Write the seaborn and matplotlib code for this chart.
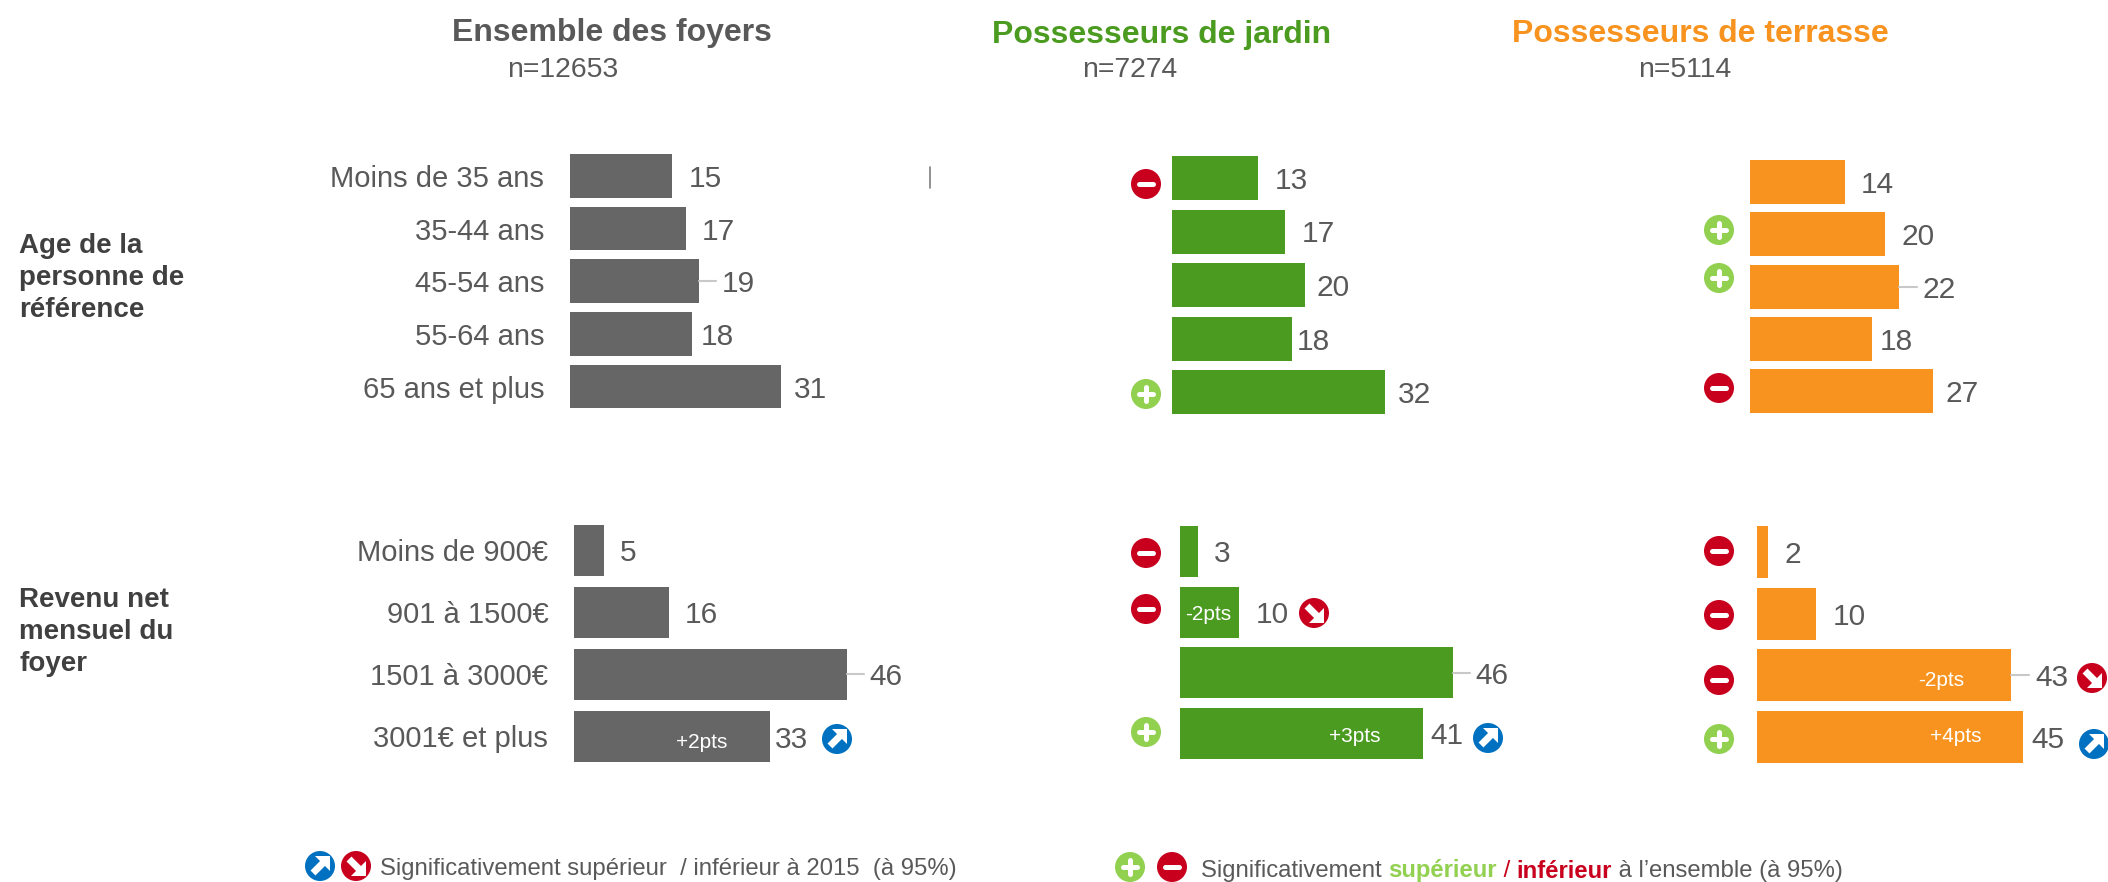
import pandas as pd
import matplotlib
matplotlib.use("Agg")
import matplotlib.pyplot as plt
from matplotlib.patches import Circle, Polygon
import seaborn as sns

# donnees
age_labels = ["Moins de 35 ans", "35-44 ans", "45-54 ans", "55-64 ans", "65 ans et plus"]
revenu_labels = ["Moins de 900€", "901 à 1500€", "1501 à 3000€", "3001€ et plus"]

age_ensemble = [15, 17, 19, 18, 31]
age_jardin = [13, 17, 20, 18, 32]
age_terrasse = [14, 20, 22, 18, 27]
revenu_ensemble = [5, 16, 46, 33]
revenu_jardin = [3, 10, 46, 41]
revenu_terrasse = [2, 10, 43, 45]

GRIS = "#666666"
VERT = "#4A9B1F"
ORANGE = "#F7931E"
VERT_CLAIR = "#92D050"
ROUGE = "#C8001E"
BLEU = "#0070C0"
TEXTE = "#595959"
W, H = 2108, 882

sns.set_theme(style="white")
plt.rcParams["font.family"] = ["Liberation Sans", "DejaVu Sans"]

fig = plt.figure(figsize=(W / 100, H / 100), dpi=100)

# calque en pixels pour les textes et pictos
over = fig.add_axes([0, 0, 1, 1], zorder=5)
over.set_xlim(0, W)
over.set_ylim(H, 0)
over.axis("off")


def panneau(labels, valeurs, couleur, x0, echelle, c1, c2, haut, ecarts, noms=False):
    n = len(valeurs)
    pas = (c2 - c1) / (n - 1)
    larg = 100 * echelle
    top = c1 - pas / 2
    ax = fig.add_axes([x0 / W, 1 - (top + pas * n) / H, larg / W, pas * n / H])
    ax.patch.set_alpha(0)
    df = pd.DataFrame({"cat": labels, "val": valeurs})
    sns.barplot(data=df, y="cat", x="val", color=couleur, saturation=1,
                width=haut / pas, linewidth=0, ax=ax)
    ax.set_xlim(0, 100)
    ax.set_xticks([])
    ax.set_xlabel("")
    ax.set_ylabel("")
    sns.despine(ax=ax, left=True, bottom=True)
    ax.tick_params(axis="y", length=0, pad=18.5, labelleft=noms, labelsize=21, labelcolor=TEXTE)
    for i, v in enumerate(valeurs):
        fin = x0 + v * echelle
        cy = c1 + i * pas
        over.text(fin + ecarts[i], cy + 3, str(v), fontsize=21.5, color=TEXTE, va="center", ha="left")
        if ecarts[i] >= 23:
            over.plot([fin, fin + ecarts[i] - 6], [cy, cy], color="#C8C8C8", lw=1.5)
    return ax


panneau(age_labels, age_ensemble, GRIS, 570, 6.8, 176, 386.5, 43.7, [17, 16, 23, 8, 13], True)
panneau(age_labels, age_jardin, VERT, 1172, 6.65, 178, 392, 44, [16, 17, 12, 5, 13])
panneau(age_labels, age_terrasse, ORANGE, 1750, 6.77, 182, 391, 44, [16, 16, 24, 8, 13])
panneau(revenu_labels, revenu_ensemble, GRIS, 574, 5.93, 550, 736.5, 51, [16, 16, 23, 5], True)
panneau(revenu_labels, revenu_jardin, VERT, 1180, 5.93, 551.5, 733, 51, [16, 16, 23, 7])
panneau(revenu_labels, revenu_terrasse, ORANGE, 1756.5, 5.92, 552, 737, 52, [16, 17, 24, 8])


def picto(x, y, genre):
    couleur = {"plus": VERT_CLAIR, "moins": ROUGE, "hausse": BLEU, "baisse": ROUGE}[genre]
    over.add_patch(Circle((x, y), 15, color=couleur, lw=0, clip_on=False, zorder=6))
    if genre in ("plus", "moins"):
        over.plot([x - 7, x + 7], [y, y], color="white", lw=3.6, solid_capstyle="round", zorder=7)
        if genre == "plus":
            over.plot([x, x], [y - 7, y + 7], color="white", lw=3.6, solid_capstyle="round", zorder=7)
    else:
        sens = -1 if genre == "hausse" else 1
        over.plot([x - 7, x + 3], [y - 7 * sens, y + 3 * sens], color="white", lw=5,
                  solid_capstyle="butt", zorder=7)
        over.add_patch(Polygon([(x + 10, y + 10 * sens), (x + 10, y - 5 * sens), (x - 5, y + 10 * sens)],
                               color="white", lw=0, zorder=7))


pictos = [
    (1146, 184, "moins"), (1146, 394, "plus"),
    (1719, 230, "plus"), (1719, 278, "plus"), (1719, 388, "moins"),
    (1146, 553, "moins"), (1146, 609, "moins"), (1146, 732, "plus"),
    (1314, 613, "baisse"), (1488, 738, "hausse"),
    (1719, 551, "moins"), (1719, 615, "moins"), (1719, 680, "moins"), (1719, 739, "plus"),
    (2092, 678, "baisse"), (2094, 744, "hausse"),
    (837, 739, "hausse"),
    (320, 866, "hausse"), (356, 866, "baisse"),
    (1130, 867, "plus"), (1172, 867, "moins"),
]
for px, py, genre in pictos:
    picto(px, py, genre)

# titres
over.text(612, 33, "Ensemble des foyers", fontsize=23, fontweight="bold", color=TEXTE, ha="center", va="center")
over.text(1162, 35, "Possesseurs de jardin", fontsize=23, fontweight="bold", color=VERT, ha="center", va="center")
over.text(1700, 34, "Possesseurs de terrasse", fontsize=23, fontweight="bold", color=ORANGE, ha="center", va="center")
over.text(563, 70, "n=12653", fontsize=20.4, color=TEXTE, ha="center", va="center")
over.text(1130, 70, "n=7274", fontsize=20.4, color=TEXTE, ha="center", va="center")
over.text(1685, 70, "n=5114", fontsize=20.4, color=TEXTE, ha="center", va="center")

over.text(19, 278, "Age de la\npersonne de\nréférence", fontsize=20, fontweight="bold", color="#404040",
          ha="left", va="center", linespacing=1.32)
over.text(19, 632, "Revenu net\nmensuel du\nfoyer", fontsize=20, fontweight="bold", color="#404040",
          ha="left", va="center", linespacing=1.32)

# ecarts en points
for px, py, txt in [(702, 742, "+2pts"), (1208, 615, "-2pts"), (1355, 736, "+3pts"),
                    (1941, 681, "-2pts"), (1956, 737, "+4pts")]:
    over.text(px, py, txt, fontsize=15, color="white", ha="center", va="center")

# petit trait isole
over.plot([930, 930], [167, 188], color="#7F7F7F", lw=1.2)

# legendes
over.text(380, 869, "Significativement supérieur  / inférieur à 2015  (à 95%)", fontsize=17.2,
          color=TEXTE, ha="left", va="center")
morceaux = [("Significativement ", TEXTE, "normal"), ("supérieur", VERT_CLAIR, "bold"), (" / ", ROUGE, "normal"),
            ("inférieur", ROUGE, "bold"), (" à l’ensemble (à 95%)", TEXTE, "normal")]
renderer = fig.canvas.get_renderer()
x = 1201
for txt, coul, poids in morceaux:
    t = over.text(x, 871, txt.replace(" ", "\u00a0"), fontsize=17.2, color=coul, fontweight=poids,
                  ha="left", va="center")
    x += t.get_window_extent(renderer).width

fig.savefig("out.png", dpi=100)
plt.close()
